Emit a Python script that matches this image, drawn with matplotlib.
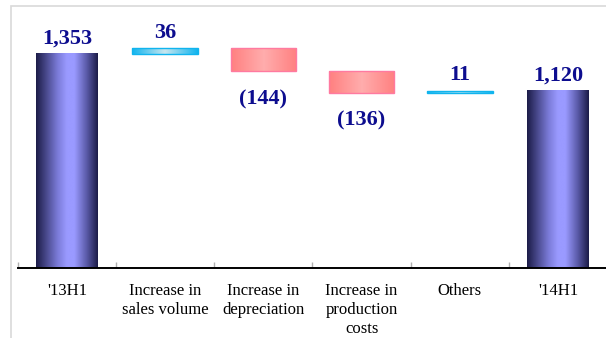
import numpy as np
import matplotlib
matplotlib.use("Agg")
import matplotlib.pyplot as plt
from matplotlib.colors import LinearSegmentedColormap
from matplotlib.patches import Rectangle

categories = ["'13H1", "Increase in\nsales volume", "Increase in\ndepreciation",
              "Increase in\nproduction\ncosts", "Others", "'14H1"]
values = [1353, 36, -144, -136, 11, 1120]
is_total = [True, False, False, False, False, True]

W, H = 606, 338
fig = plt.figure(figsize=(W / 100, H / 100), dpi=100)

# light frame around the chart area
fig.patches.append(Rectangle((11 / W, -0.05), 1.2, (338 - 6) / H + 0.05,
                             transform=fig.transFigure, fill=False,
                             edgecolor="#d9d9d9", linewidth=1.2))

ax = fig.add_axes([18 / W, 70 / H, 589 / W, 262 / H])
ax.set_xlim(-0.5, 5.5)
ax.set_ylim(0, 1656)
for s in ["top", "right", "left"]:
    ax.spines[s].set_visible(False)
ax.spines["bottom"].set_linewidth(1.4)
ax.spines["bottom"].set_color("black")
ax.set_yticks([])

total_cmap = LinearSegmentedColormap.from_list(
    "tot", [(0, "#1c1c48"), (0.35, "#7b7bd8"), (0.5, "#9a9aff"),
            (0.62, "#9a9aff"), (0.82, "#5a5aa8"), (1, "#1c1c48")])
up_cmap = LinearSegmentedColormap.from_list(
    "up", [(0, "#10b4ee"), (0.5, "#c8e6ef"), (1, "#10b4ee")])
down_cmap = LinearSegmentedColormap.from_list(
    "down", [(0, "#ff8080"), (0.5, "#ffadad"), (1, "#ff8080")])

grad = np.linspace(0, 1, 256).reshape(1, -1)
label_color = "#0d0d8f"
serif = ["Liberation Serif", "DejaVu Serif"]


def fmt(v):
    s = f"{abs(v):,}"
    return f"({s})" if v < 0 else s


running = 0
for i, (v, tot) in enumerate(zip(values, is_total)):
    if tot:
        bottom, top = 0, v
        running = v
        width = 0.63
        cmap, edge = total_cmap, None
    else:
        start = running
        running = running + v
        bottom, top = min(start, running), max(start, running)
        width = 0.67
        if v >= 0:
            cmap, edge = up_cmap, "#10b4ee"
        else:
            cmap, edge = down_cmap, "#ff7aa0"
    x0, x1 = i - width / 2, i + width / 2
    ax.imshow(grad, cmap=cmap, extent=[x0, x1, bottom, top],
              aspect="auto", interpolation="bilinear", zorder=2)
    if edge:
        ax.add_patch(Rectangle((x0, bottom), width, top - bottom, fill=False,
                               edgecolor=edge, linewidth=1.0, zorder=3))
    if v >= 0:
        ax.annotate(fmt(v), (i, top), xytext=(0, 4), textcoords="offset points",
                    ha="center", va="bottom", fontsize=16, fontweight="bold",
                    family=serif, color=label_color)
    else:
        ax.annotate(fmt(v), (i, bottom), xytext=(0, -13), textcoords="offset points",
                    ha="center", va="top", fontsize=16, fontweight="bold",
                    family=serif, color=label_color)

ax.set_xticks(range(len(categories)))
ax.set_xticklabels(categories, family=serif, fontsize=12, linespacing=1.25)
ax.tick_params(axis="x", which="major", length=0, pad=11)
ax.set_xticks(np.arange(-0.5, 6, 1.0), minor=True)
ax.tick_params(axis="x", which="minor", direction="in", length=4,
               color="#b0b0b0", width=1)

fig.savefig("out.png", dpi=100)
